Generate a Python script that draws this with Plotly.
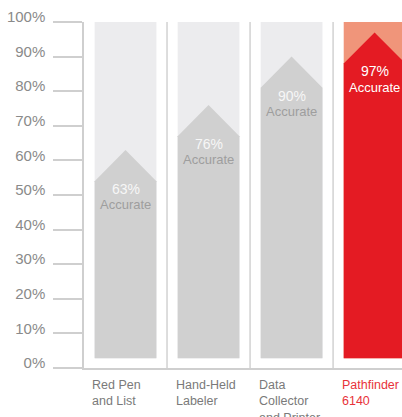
import plotly.graph_objects as go

categories = ["Red Pen<br>and List", "Hand-Held<br>Labeler", "Data<br>Collector<br>and Printer", "Pathfinder<br>6140"]
accuracy = [63, 76, 90, 97]
highlight = [False, False, False, True]
y_ticks = list(range(0, 101, 10))
y_tick_labels = [f"{v}%" for v in y_ticks]

BASE = 2.8
HALF_W = 0.372
NOTCH = 9

fig = go.Figure()

for i, (v, hl) in enumerate(zip(accuracy, highlight)):
    bg = "#f0957a" if hl else "#ececee"
    fg = "#e41b23" if hl else "#d0d0d0"
    # background column
    fig.add_trace(go.Bar(x=[i], y=[100 - BASE], base=[BASE], width=[2 * HALF_W],
                         marker=dict(color=bg, line=dict(width=0)), hoverinfo="skip",
                         showlegend=False))
    # arrow-shaped value bar
    xs = [i - HALF_W, i - HALF_W, i, i + HALF_W, i + HALF_W, i - HALF_W]
    ys = [BASE, v - NOTCH, v, v - NOTCH, BASE, BASE]
    fig.add_trace(go.Scatter(x=xs, y=ys, mode="lines", fill="toself", fillcolor=fg,
                             line=dict(width=0, color=fg), hoverinfo="skip", showlegend=False))
    pct_color = "#ffffff" if hl else "#f7f7f7"
    acc_color = "#ffffff" if hl else "#9e9e9e"
    fig.add_annotation(x=i, y=v - 11.3, text=f"{v}%", showarrow=False,
                       font=dict(size=14, color=pct_color, family="Liberation Sans"))
    fig.add_annotation(x=i, y=v - 15.8, text="Accurate", showarrow=False,
                       font=dict(size=13, color=acc_color, family="Liberation Sans"))
    fig.add_annotation(x=i - HALF_W - 0.05, y=0, yshift=-8, text=categories[i], showarrow=False,
                       xanchor="left", yanchor="top", align="left",
                       font=dict(size=12.5, color="#e8333a" if hl else "#7a7a7a", family="Liberation Sans"))

for i in range(len(categories) - 1):
    fig.add_shape(type="line", x0=i + 0.5, x1=i + 0.5, y0=0, y1=100, xref="x", yref="y",
                  line=dict(color="#d2d2d2", width=1.5))

fig.update_layout(
    width=402, height=417,
    margin=dict(l=84, r=0, t=22, b=49, autoexpand=False),
    paper_bgcolor="white", plot_bgcolor="white",
    barmode="overlay",
    font=dict(family="Liberation Sans"),
    xaxis=dict(range=[-0.5, 3.33], showticklabels=False, ticks="", showgrid=False, automargin=False,
               zeroline=False, showline=True, linecolor="#cfcfcf", linewidth=1.5, fixedrange=True),
    yaxis=dict(range=[0, 100], tickvals=y_ticks, ticktext=y_tick_labels, ticks="outside",
               ticklen=29, tickcolor="#cfcfcf", tickwidth=1.5, showline=True, linecolor="#cfcfcf",
               linewidth=1.5, showgrid=False, zeroline=False, ticklabelshift=-5, automargin=False,
               ticklabelstandoff=5, tickfont=dict(size=15, color="#8a8a8a"), fixedrange=True),
)

fig.write_html("out.html", config={"displayModeBar": False},
               post_script="document.body.style.margin='0';document.body.style.overflow='hidden';")
